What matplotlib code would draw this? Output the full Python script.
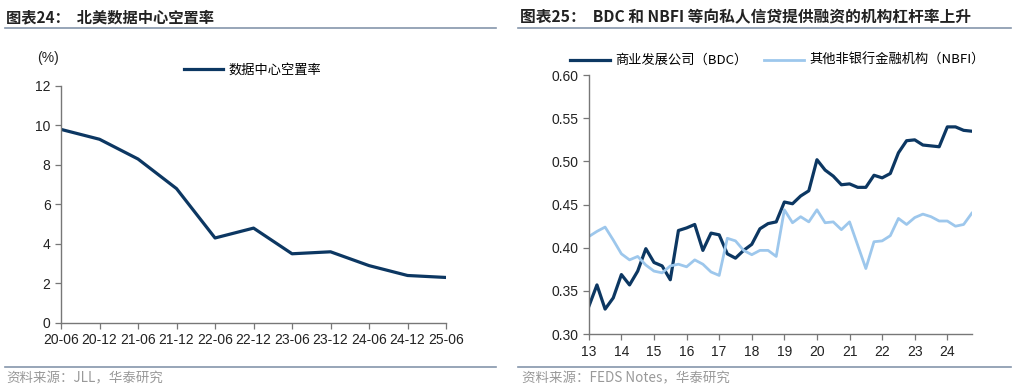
import numpy as np
import matplotlib.pyplot as plt
from matplotlib.lines import Line2D

plt.rcParams['font.family'] = ['Liberation Sans', 'Noto Sans CJK SC', 'DejaVu Sans']

# left chart: North America data center vacancy rate (%)
periods = ['20-06', '20-12', '21-06', '21-12', '22-06', '22-12',
           '23-06', '23-12', '24-06', '24-12', '25-06']
vacancy = [9.8, 9.3, 8.3, 6.8, 4.3, 4.8, 3.5, 3.6, 2.9, 2.4, 2.3]

# right chart: quarterly leverage, 2013Q1 - 2024Q4
year_ticks = [13, 14, 15, 16, 17, 18, 19, 20, 21, 22, 23, 24]
bdc = [0.332, 0.357, 0.329, 0.342, 0.369, 0.357, 0.373, 0.399,
       0.383, 0.379, 0.363, 0.420, 0.423, 0.427, 0.397, 0.417,
       0.415, 0.393, 0.388, 0.397, 0.404, 0.422, 0.428, 0.430,
       0.453, 0.451, 0.460, 0.466, 0.502, 0.490, 0.483, 0.473,
       0.474, 0.470, 0.470, 0.484, 0.481, 0.486, 0.510, 0.524,
       0.525, 0.519, 0.518, 0.517, 0.540, 0.540, 0.536, 0.535]
nbfi = [0.413, 0.419, 0.424, 0.409, 0.393, 0.386, 0.390, 0.380,
        0.373, 0.371, 0.379, 0.381, 0.378, 0.386, 0.381, 0.372,
        0.368, 0.411, 0.408, 0.397, 0.392, 0.397, 0.397, 0.390,
        0.444, 0.429, 0.436, 0.430, 0.444, 0.429, 0.430, 0.421,
        0.430, 0.403, 0.376, 0.407, 0.408, 0.414, 0.434, 0.427,
        0.435, 0.439, 0.436, 0.431, 0.431, 0.425, 0.427, 0.440]
quarters = 13 + np.arange(len(bdc)) / 4

navy = '#0c3762'
light = '#9dc7ec'
rule = '#8596ab'
cjk = ['Noto Sans CJK SC', 'DejaVu Sans']

fig = plt.figure(figsize=(10.24, 3.89), dpi=100)
fig.patch.set_facecolor('white')

# titles, rules and sources
fig.text(0.006, 0.955, '图表24：  北美数据中心空置率', fontsize=11, fontweight='bold',
         family=cjk, color='#222222', va='center')
fig.text(0.508, 0.955, '图表25：  BDC 和 NBFI 等向私人信贷提供融资的机构杠杆率上升',
         fontsize=11.3, fontweight='bold', family=cjk, color='#222222', va='center')
for x0, x1 in [(0.005, 0.484), (0.506, 0.987)]:
    fig.add_artist(Line2D([x0, x1], [0.928, 0.928], color=rule, lw=1.2))
    fig.add_artist(Line2D([x0, x1], [0.056, 0.056], color=rule, lw=1.2))
fig.text(0.006, 0.026, '资料来源：JLL，华泰研究', fontsize=9.7, family=cjk,
         color='#999999', va='center')
fig.text(0.510, 0.026, '资料来源：FEDS Notes，华泰研究', fontsize=9.7, family=cjk,
         color='#999999', va='center')


def style(ax):
    for s in ['top', 'right']:
        ax.spines[s].set_visible(False)
    for s in ['left', 'bottom']:
        ax.spines[s].set_color('#777777')
        ax.spines[s].set_linewidth(1.0)
    ax.tick_params(direction='out', length=4, width=0.9, color='#777777',
                   labelsize=10, labelcolor='#222222')


# left chart
ax1 = fig.add_axes([0.0596, 0.170, 0.376, 0.609])
ax1.plot(range(len(vacancy)), vacancy, color=navy, lw=2.3, solid_joinstyle='round')
ax1.set_xlim(0, len(vacancy) - 1)
ax1.set_ylim(0, 12)
ax1.set_yticks(range(0, 13, 2))
ax1.set_xticks(range(len(periods)))
ax1.set_xticklabels(periods)
style(ax1)
ax1.tick_params(axis='x', pad=3)
fig.text(0.047, 0.851, '(%)', fontsize=10, color='#222222', va='center', ha='center')
ax1.legend(['数据中心空置率'], loc='lower center', bbox_to_anchor=(0.497, 1.005),
           frameon=False, prop={'family': cjk, 'size': 9.5}, handlelength=3.0,
           handletextpad=0.4, borderaxespad=0.2)

# right chart
ax2 = fig.add_axes([0.575, 0.141, 0.374, 0.666])
ax2.plot(quarters, bdc, color=navy, lw=2.3, label='商业发展公司（BDC）',
         solid_joinstyle='round')
ax2.plot(quarters, nbfi, color=light, lw=2.0, label='其他非银行金融机构（NBFI）',
         solid_joinstyle='round')
ax2.set_xlim(13, quarters[-1])
ax2.set_ylim(0.30, 0.60)
ax2.set_yticks(np.arange(0.30, 0.601, 0.05))
ax2.set_yticklabels([f'{v:.2f}' for v in np.arange(0.30, 0.601, 0.05)])
ax2.set_xticks(year_ticks)
style(ax2)
ax2.legend(loc='lower center', bbox_to_anchor=(0.492, 1.005), ncol=2, frameon=False,
           prop={'family': cjk, 'size': 9.5}, handlelength=3.0, handletextpad=0.4,
           columnspacing=1.3, borderaxespad=0.1)

fig.savefig('out.png', dpi=100)
